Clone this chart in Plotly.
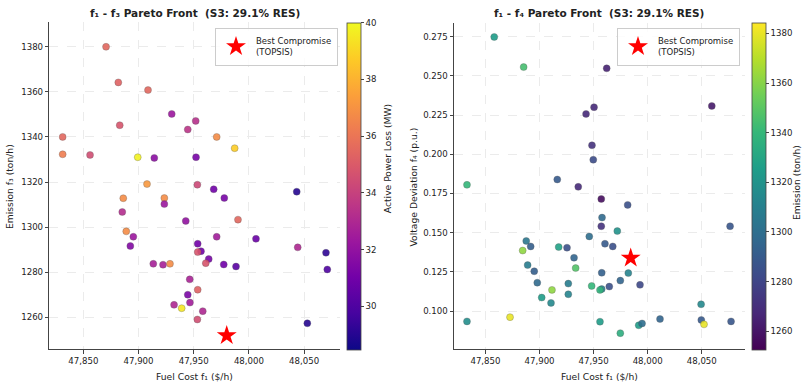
import plotly.graph_objects as go

W, H = 803, 386

# ---------------- Left panel: f1 vs f3, colour = active power loss ----------------
fuel_cost_L = [47870.6, 47881.7, 47908.6, 47930.1, 47951.8, 47883.0, 47944.6, 47831.3, 47970.8, 47831.3,
               47856.1, 47987.1, 47899.3, 47914.3, 47952.1, 47907.7, 47953.3, 47968.1, 48043.3, 47886.2,
               47923.4, 47923.4, 47977.7, 47885.3, 47942.8, 47990.1, 47888.9, 47895.3, 47970.8, 48006.4,
               47953.6, 47892.6, 48044.2, 48069.8, 47956.6, 47953.6, 47963.6, 47960.9, 47913.4, 47922.2,
               47928.5, 47977.2, 47988.3, 48071.0, 47946.4, 47953.6, 47944.6, 47946.6, 47932.2, 47939.1,
               47958.2, 47953.3, 48052.9]
emission_L = [1380.0, 1364.2, 1360.8, 1350.2, 1347.1, 1345.2, 1343.3, 1340.0, 1340.0, 1332.3,
              1332.0, 1335.0, 1331.0, 1330.7, 1331.0, 1319.1, 1318.8, 1316.8, 1315.7, 1312.8,
              1312.9, 1310.2, 1312.9, 1306.7, 1302.7, 1303.3, 1298.1, 1295.7, 1295.7, 1294.8,
              1292.6, 1291.6, 1291.0, 1288.6, 1289.3, 1288.9, 1285.8, 1284.0, 1283.7, 1283.3,
              1283.7, 1283.4, 1282.5, 1281.2, 1276.8, 1272.2, 1270.0, 1266.5, 1265.5, 1264.0,
              1262.7, 1259.0, 1257.3]
power_loss_L = [35.5, 35.3, 35.5, 32.3, 33.3, 34.8, 33.5, 35.5, 36.8, 36.3,
                34.5, 38.8, 39.8, 31.8, 31.2, 37.2, 34.3, 31.0, 29.0, 36.8,
                36.8, 32.3, 31.2, 33.2, 32.0, 35.5, 36.8, 32.3, 32.5, 30.8,
                31.0, 31.5, 33.0, 29.2, 31.0, 34.8, 31.2, 34.8, 32.7, 32.7,
                36.8, 31.0, 30.3, 30.0, 32.8, 35.3, 31.3, 32.5, 33.0, 39.5,
                33.0, 34.5, 29.0]

# ---------------- Right panel: f1 vs f4, colour = emission ----------------
fuel_cost_R = [47858.1, 47885.3, 47962.1, 47943.0, 47950.4, 48059.3, 47948.5, 47949.7, 47832.9, 47916.4,
               47935.8, 47957.1, 47981.5, 47957.8, 47957.1, 47971.9, 48076.2, 47946.0, 47887.7, 47891.8,
               47960.5, 47967.7, 47917.7, 47925.4, 47884.4, 47931.9, 47889.0, 47933.4, 47895.1, 47957.5,
               47982.1, 47897.9, 47926.6, 47948.2, 47974.7, 47992.9, 47964.5, 47911.5, 47957.5, 47955.9,
               47902.0, 47926.6, 47910.6, 48049.4, 47832.9, 47872.7, 47955.9, 48011.4, 48049.6, 48052.1,
               48077.1, 47991.7, 47994.8, 47974.7]
voltage_dev_R = [0.2748, 0.2556, 0.2548, 0.2257, 0.2300, 0.2308, 0.2057, 0.1965, 0.1805, 0.1839,
                 0.1792, 0.1715, 0.1677, 0.1596, 0.1541, 0.1510, 0.1541, 0.1476, 0.1447, 0.1412,
                 0.1429, 0.1412, 0.1408, 0.1404, 0.1386, 0.1340, 0.1293, 0.1274, 0.1254, 0.1244,
                 0.1242, 0.1181, 0.1175, 0.1160, 0.1194, 0.1167, 0.1156, 0.1135, 0.1140, 0.1135,
                 0.1086, 0.1107, 0.1052, 0.1043, 0.0934, 0.0961, 0.0932, 0.0949, 0.0943, 0.0915,
                 0.0934, 0.0909, 0.0921, 0.0859]
emission_R = [1325, 1345, 1265, 1268, 1268, 1262, 1272, 1283, 1340, 1290,
              1268, 1257, 1285, 1298, 1272, 1320, 1288, 1300, 1305, 1292,
              1290, 1285, 1328, 1285, 1362, 1295, 1308, 1348, 1292, 1293,
              1312, 1298, 1308, 1340, 1295, 1282, 1285, 1362, 1310, 1338,
              1325, 1312, 1315, 1315, 1318, 1380, 1325, 1295, 1290, 1380,
              1288, 1325, 1300, 1335]

# Best compromise (TOPSIS)
best_L = (47979.9, 1251.9)
best_R = (47984.3, 0.1338)

legend_label = "Best Compromise<br>(TOPSIS)"
font_family = "DejaVu Sans"
txt = "#222222"

def px(x):
    return x / W

def py(y):
    return 1 - y / H

fig = go.Figure()

marker_line = dict(color="rgba(70,70,70,0.6)", width=0.5)

fig.add_trace(go.Scatter(
    x=fuel_cost_L, y=emission_L, mode="markers", xaxis="x", yaxis="y", showlegend=False,
    marker=dict(size=7, color=power_loss_L, coloraxis="coloraxis", opacity=0.9, line=marker_line),
))
fig.add_trace(go.Scatter(
    x=[best_L[0]], y=[best_L[1]], mode="markers", xaxis="x", yaxis="y", name=legend_label,
    legend="legend", showlegend=True,
    marker=dict(symbol="star", size=15, color="red", line=dict(width=0)),
))
fig.add_trace(go.Scatter(
    x=fuel_cost_R, y=voltage_dev_R, mode="markers", xaxis="x2", yaxis="y2", showlegend=False,
    marker=dict(size=7, color=emission_R, coloraxis="coloraxis2", opacity=0.9, line=marker_line),
))
fig.add_trace(go.Scatter(
    x=[best_R[0]], y=[best_R[1]], mode="markers", xaxis="x2", yaxis="y2", name=legend_label,
    legend="legend2", showlegend=True,
    marker=dict(symbol="star", size=15, color="red", line=dict(width=0)),
))

axis_common = dict(
    showline=True, linecolor="#444444", linewidth=1, mirror=False,
    showgrid=True, gridcolor="#ebebeb", griddash="dash", gridwidth=0.6,
    ticks="outside", ticklen=3.5, tickwidth=0.8, tickcolor="#444444",
    zeroline=False, automargin=False,
    tickfont=dict(family=font_family, size=8.6, color=txt),
)

cb_common = dict(
    thickness=13.5, thicknessmode="pixels", len=327.3 / H, lenmode="fraction",
    y=py(186.3), yanchor="middle", xanchor="left", xpad=0, ypad=0,
    outlinecolor="#444444", outlinewidth=0.8,
    ticks="outside", ticklen=3, tickwidth=0.8, tickcolor="#444444",
    tickfont=dict(family=font_family, size=8.6, color=txt),
)

fig.update_layout(
    width=W, height=H,
    margin=dict(l=0, r=0, t=0, b=0),
    paper_bgcolor="white", plot_bgcolor="white",
    font=dict(family=font_family, color=txt),
    xaxis=dict(axis_common, domain=[px(49.3), px(340)], range=[47819.2, 48082.5],
               tick0=47850, dtick=50, tickformat=",d", anchor="y"),
    yaxis=dict(axis_common, domain=[py(349), py(22)], range=[1245.9, 1391.0],
               tick0=1260, dtick=20, anchor="x"),
    xaxis2=dict(axis_common, domain=[px(454), px(745)], range=[47820.9, 48090.0],
                tick0=47850, dtick=50, tickformat=",d", anchor="y2"),
    yaxis2=dict(axis_common, domain=[py(349.3), py(22.7)], range=[0.0756, 0.2839],
                tick0=0.1, dtick=0.025, tickformat=".3f", anchor="x2"),
    coloraxis=dict(colorscale="Plasma", cmin=28.46, cmax=40.0,
                   colorbar=dict(cb_common, x=px(347.3), tickvals=[30, 32, 34, 36, 38, 40])),
    coloraxis2=dict(colorscale="Viridis", cmin=1252.5, cmax=1384.3,
                    colorbar=dict(cb_common, x=px(751.7), tickvals=[1260, 1280, 1300, 1320, 1340, 1360, 1380])),
    legend=dict(x=px(338), y=py(28), xanchor="right", yanchor="top", xref="paper", yref="paper",
                bgcolor="rgba(255,255,255,0.85)", bordercolor="#cccccc", borderwidth=1,
                font=dict(family=font_family, size=8.5, color=txt)),
    legend2=dict(x=px(740), y=py(28), xanchor="right", yanchor="top", xref="paper", yref="paper",
                 bgcolor="rgba(255,255,255,0.85)", bordercolor="#cccccc", borderwidth=1,
                 font=dict(family=font_family, size=8.5, color=txt)),
)

annotations = [
    dict(text="<b>f₁ - f₃ Pareto Front \u00a0(S3: 29.1% RES)</b>", x=px(195), y=py(12.5), size=10.5, angle=0),
    dict(text="<b>f₁ - f₄ Pareto Front \u00a0(S3: 29.1% RES)</b>", x=px(598.5), y=py(12.5), size=10.5, angle=0),
    dict(text="Fuel Cost f₁ ($/h)", x=px(194.5), y=py(376), size=9.2, angle=0),
    dict(text="Fuel Cost f₁ ($/h)", x=px(599), y=py(376), size=9.2, angle=0),
    dict(text="Emission f₃ (ton/h)", x=px(10), y=py(187), size=9.2, angle=-90),
    dict(text="Voltage Deviation f₄ (p.u.)", x=px(413.5), y=py(187), size=9.2, angle=-90),
    dict(text="Active Power Loss (MW)", x=px(387.7), y=py(158.5), size=9.2, angle=-90),
    dict(text="Emission (ton/h)", x=px(796), y=py(183), size=9.2, angle=-90),
]
for a in annotations:
    fig.add_annotation(
        text=a["text"], x=a["x"], y=a["y"], xref="paper", yref="paper",
        xanchor="center", yanchor="middle", showarrow=False, textangle=a["angle"],
        font=dict(family=font_family, size=a["size"], color=txt),
    )

fig.write_html("out.html")
